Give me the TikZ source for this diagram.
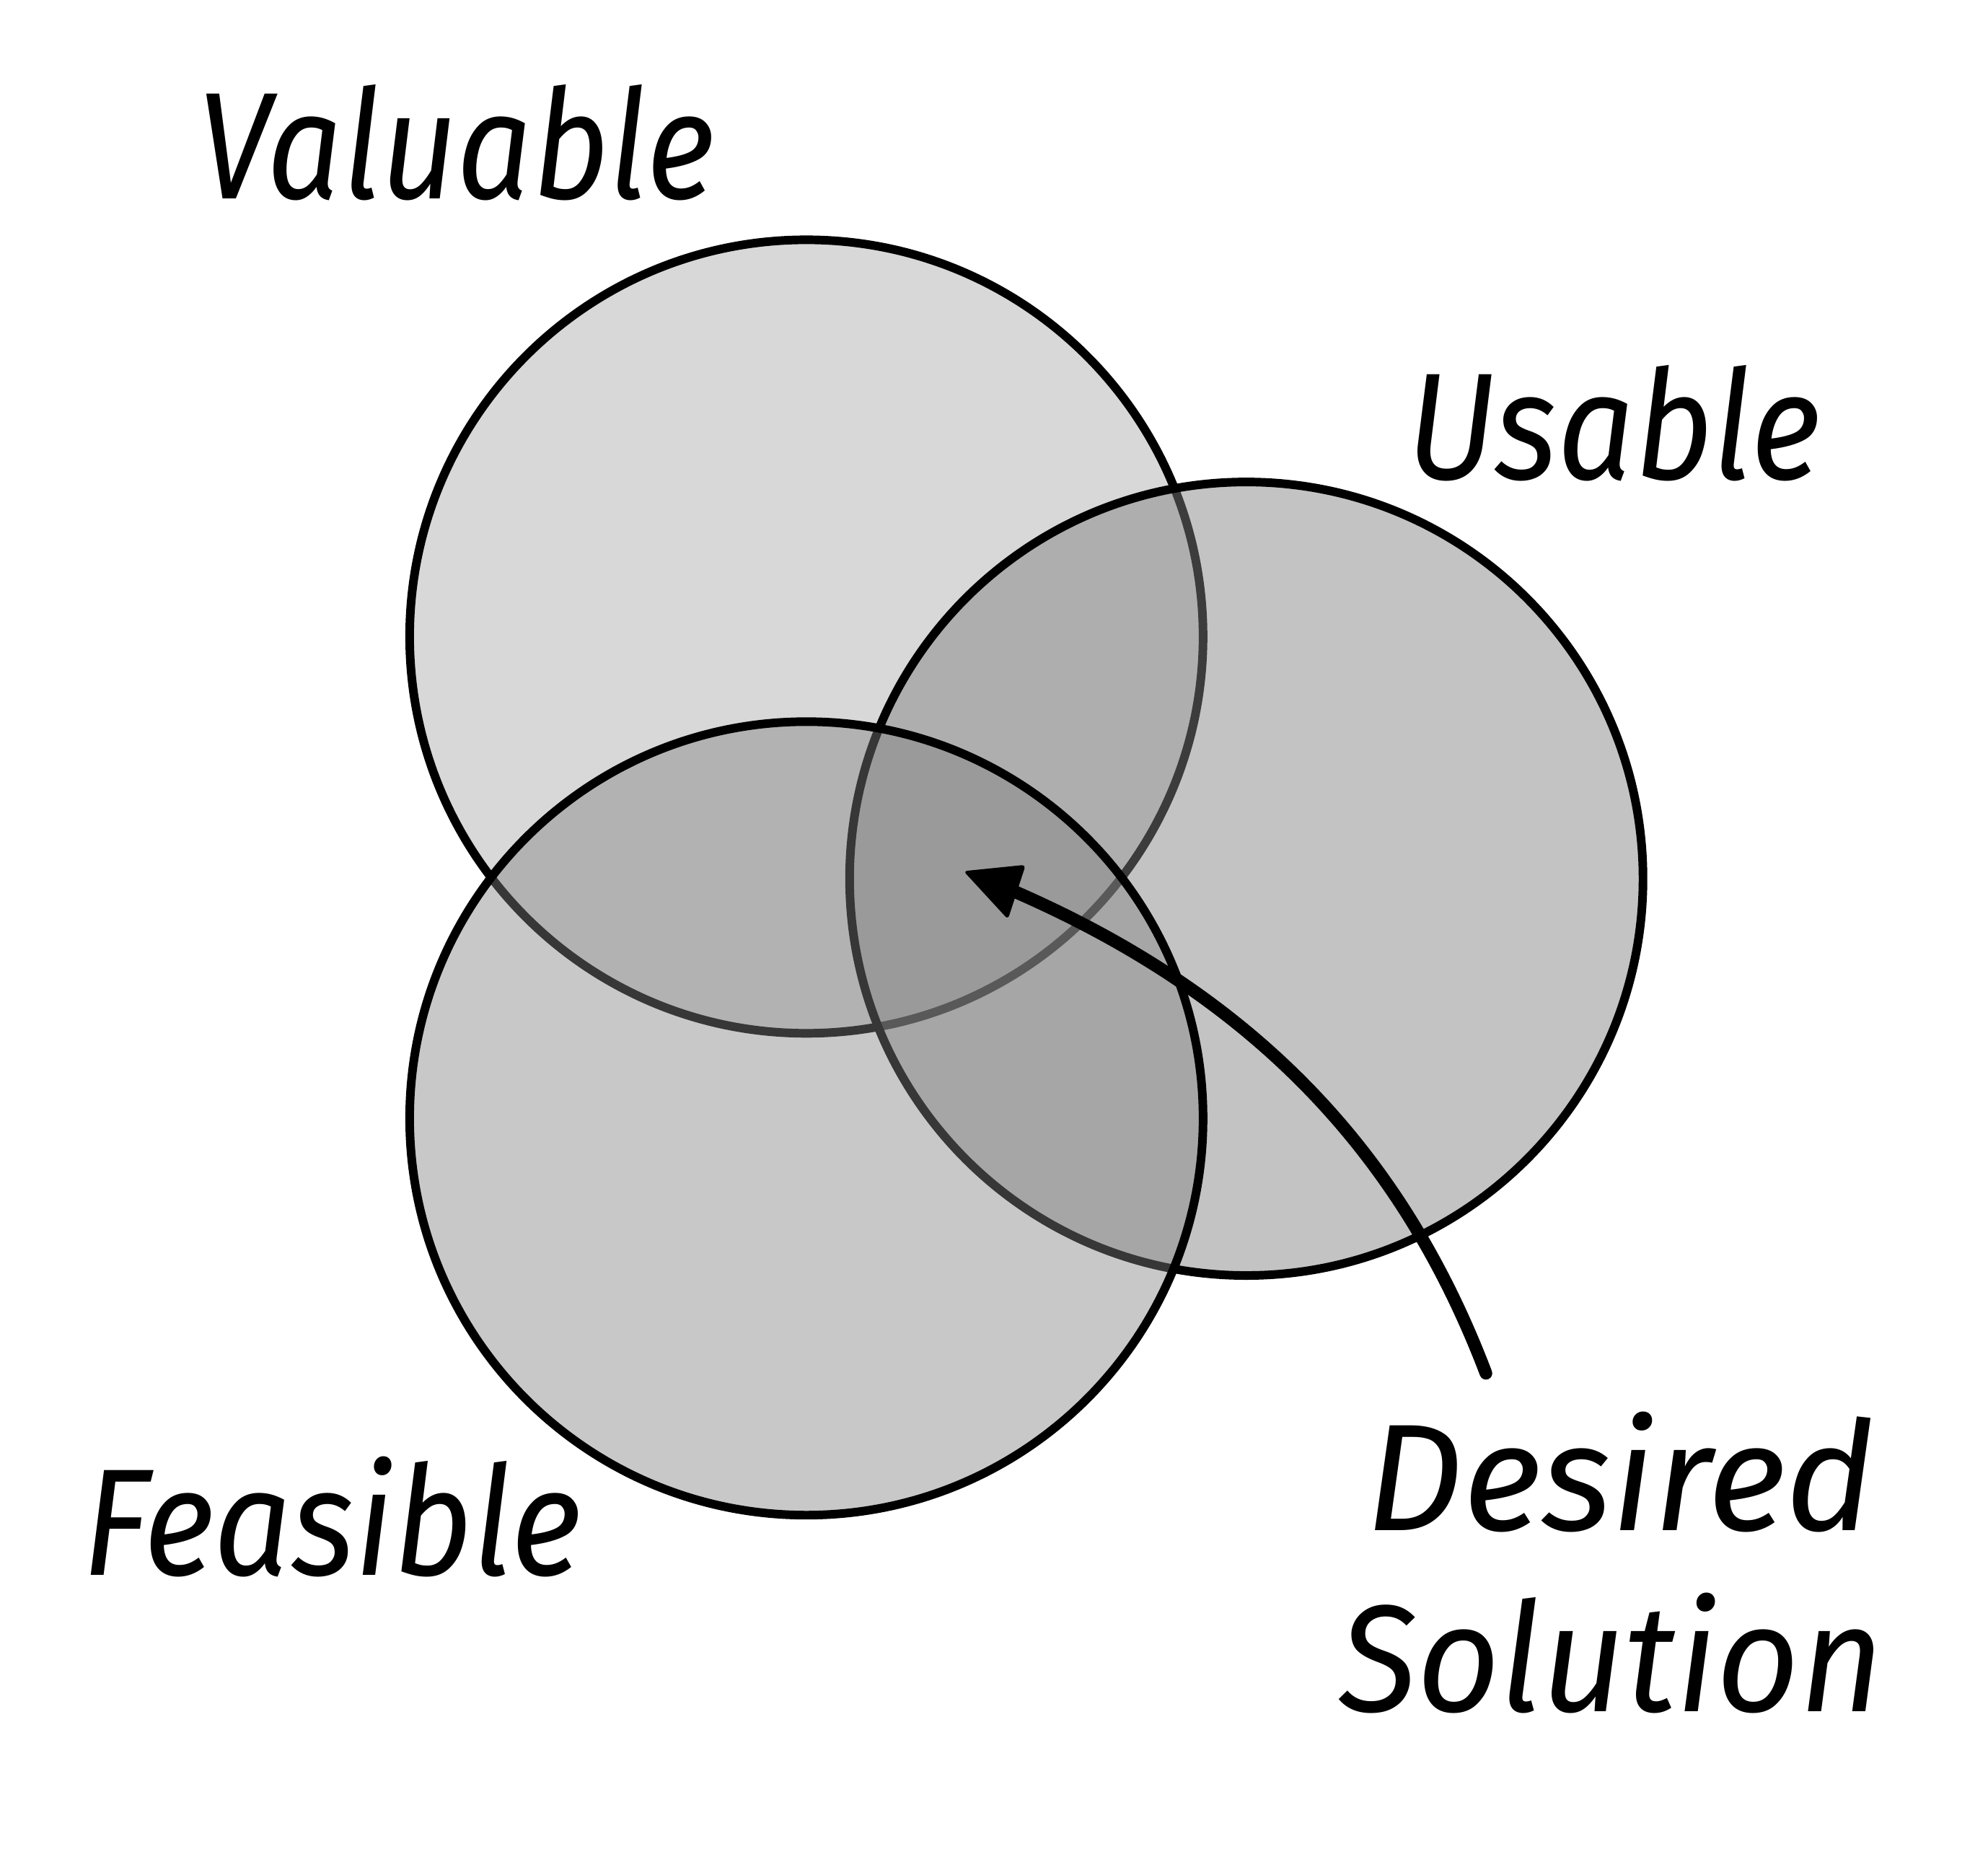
\documentclass[tikz,border=0pt]{standalone}
\usepackage{fontspec}
\setmainfont{Fira Sans}
\definecolor{venngray}{RGB}{128,128,128}
\begin{document}
\begin{tikzpicture}[x=0.017577cm,y=-0.017577cm,
  venn/.style={circle,draw=black,line width=3.4pt,fill=venngray,minimum size=11.0cm,inner sep=0pt},
  lbl/.style={font=\fontsize{60}{66}\selectfont\itshape,anchor=base,inner sep=0pt},
  arrowline/.style={line width=5pt,line cap=round}]
\useasboundingbox (0,0) rectangle (1568,1458);
\fill[white] (0,0) rectangle (1568,1458);
\node[venn,fill opacity=0.307] (V) at (636,502) {};
\node[venn,fill opacity=0.47] (U) at (983,693) {};
\node[venn,fill opacity=0.433] (F) at (636,882) {};
\node[lbl] (tV) at (360,157) {\scalebox{0.87}[1]{Valuable}};
\node[lbl] (tU) at (1273,378) {\scalebox{0.89}[1]{Usable}};
\node[lbl] (tF) at (262,1242) {\scalebox{0.9}[1]{Feasible}};
\node[lbl] (tD) at (1278,1207) {Desired};
\node[lbl] (tS) at (1271,1350) {\scalebox{0.95}[1]{Solution}};
\coordinate (start) at (1172,1083);
\coordinate (base) at (800,703);
\coordinate (tip) at (760,687);
\coordinate (c1) at (809,682);
\coordinate (c2) at (795,725);
\draw[arrowline] (start) .. controls (1110,920) and (1000,790) .. (base);
\fill[rounded corners=1.5pt] (tip) -- (c1) -- (c2) -- cycle;
\end{tikzpicture}
\end{document}
